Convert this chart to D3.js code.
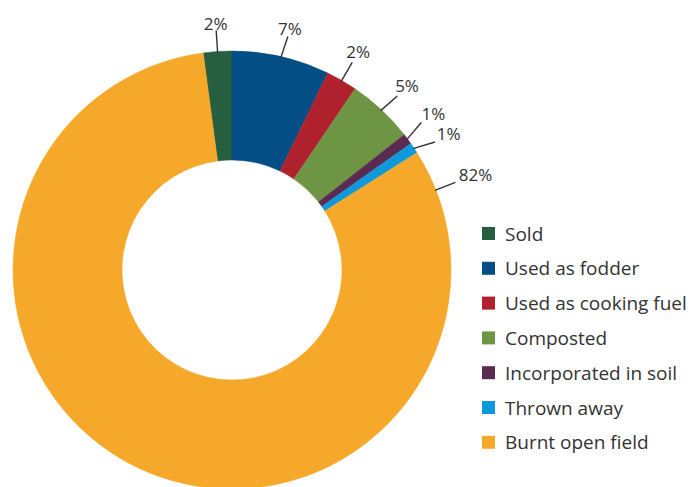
<!DOCTYPE html>
<html>
<head>
<meta charset="utf-8">
<script src="https://cdn.jsdelivr.net/npm/d3@7"></script>
<style>
  html, body { margin: 0; padding: 0; background: #fff; }
  svg { display: block; }
  text { font-family: "Open Sans", "Noto Sans", sans-serif; fill: #333; }
</style>
</head>
<body>
<svg id="chart" width="697" height="487"></svg>
<script>
// ---- data ----
const categories = ["Sold", "Used as fodder", "Used as cooking fuel", "Composted",
                    "Incorporated in soil", "Thrown away", "Burnt open field"];
const values = [2.1, 7.2, 2.3, 4.9, 0.8, 0.8, 81.9];
const labels = ["2%", "7%", "2%", "5%", "1%", "1%", "82%"];
const colors = ["#265e40", "#034e85", "#b0212e", "#6e9544", "#5b2a50", "#0f99db", "#f5a82a"];

// ---- layout ----
const W = 697, H = 487;
const cx = 232, cy = 270, R = 219, r0 = 110;
// label leader angle adjustments (degrees): nudge from slice mid-angle
const labelNudge = [0, 0.5, 0, 0.5, -1.2, 1.6, null];
const burntLabelOffset = 11; // degrees past slice start for big slice label

const svg = d3.select("#chart");
const g = svg.append("g").attr("transform", `translate(${cx},${cy})`);

const total = d3.sum(values);
const start = -(values[0] / total) * 2 * Math.PI;
const pie = d3.pie().sort(null).value(d => d).startAngle(start).endAngle(start + 2 * Math.PI);
const arcs = pie(values);
const arc = d3.arc().innerRadius(r0).outerRadius(R);

g.selectAll("path.slice").data(arcs).join("path")
  .attr("class", "slice")
  .attr("d", arc)
  .attr("fill", (d, i) => colors[i])
  .attr("stroke", (d, i) => colors[i])
  .attr("stroke-width", 0.5);

const rad = Math.PI / 180;
const polar = (a, rr) => [Math.sin(a) * rr, -Math.cos(a) * rr];

arcs.forEach((d, i) => {
  const mid = (d.startAngle + d.endAngle) / 2;
  const a = labelNudge[i] === null ? d.startAngle + burntLabelOffset * rad : mid + labelNudge[i] * rad;
  const aStart = labelNudge[i] === null ? a : mid;
  const p0 = polar(aStart, R - 1);
  const p1 = polar(a, R + 21);
  g.append("line")
    .attr("x1", p0[0]).attr("y1", p0[1])
    .attr("x2", p1[0]).attr("y2", p1[1])
    .attr("stroke", "#333").attr("stroke-width", 1.4);
  const t = g.append("text")
    .attr("font-size", 17)
    .attr("text-anchor", "middle")
    .attr("dominant-baseline", "central")
    .text(labels[i]);
  const w = t.node().getComputedTextLength();
  const rt = R + 27 + 0.5 * w * Math.abs(Math.sin(a));
  const pt = polar(a, rt);
  t.attr("x", pt[0]).attr("y", pt[1]);
});

// ---- legend ----
const legend = svg.append("g").attr("transform", "translate(482,227)");
const rowH = 34.8;
categories.forEach((c, i) => {
  const row = legend.append("g").attr("transform", `translate(0,${i * rowH})`);
  row.append("rect").attr("x", 0).attr("y", 0).attr("width", 13).attr("height", 13)
    .attr("fill", colors[i]);
  row.append("text").attr("x", 23).attr("y", 6.5)
    .attr("dominant-baseline", "central")
    .attr("font-size", 19)
    .text(c);
});
</script>
</body>
</html>
